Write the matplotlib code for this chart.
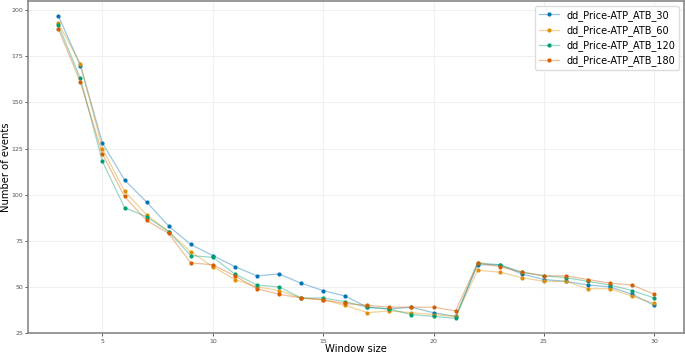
import matplotlib.pyplot as plt
from matplotlib.lines import Line2D

# Window sizes
windows = list(range(3, 31))

# Number of events per series
ev_30 = [197, 170, 128, 108, 96, 83, 73, 67, 61, 56, 57, 52, 48, 45,
         39, 38, 39, 36, 34, 62, 62, 57, 54, 53, 51, 50, 46, 40]
ev_60 = [193, 171, 125, 102, 89, 80, 69, 61, 54, 50, 48, 44, 43, 40,
         36, 37, 36, 35, 34, 59, 58, 55, 53, 53, 49, 49, 45, 41]
ev_120 = [192, 163, 118, 93, 88, 80, 67, 66, 57, 51, 50, 44, 44, 42,
          39, 38, 35, 34, 33, 63, 62, 58, 56, 55, 53, 51, 48, 44]
ev_180 = [190, 161, 122, 99, 86, 79, 63, 62, 56, 49, 46, 44, 43, 41,
          40, 39, 39, 39, 37, 63, 61, 58, 56, 56, 54, 52, 51, 46]

labels = ['dd_Price-ATP_ATB_30', 'dd_Price-ATP_ATB_60',
          'dd_Price-ATP_ATB_120', 'dd_Price-ATP_ATB_180']
colors = ['#0173b2', '#de8f05', '#029e73', '#d55e00']

fig = plt.figure(figsize=(6.85, 3.54), dpi=100)
ax = fig.add_axes([0.0416, 0.0593, 0.957, 0.938])

# faint lines, solid markers
for series, col in zip([ev_30, ev_60, ev_120, ev_180], colors):
    ax.plot(windows, series, color=col, alpha=0.4, linewidth=0.9)
    ax.plot(windows, series, linestyle='none', marker='o', markersize=2,
            color=col)

leg_handles = [(Line2D([], [], color=c, alpha=0.4, linewidth=0.9),
                Line2D([], [], color=c, linestyle='none', marker='o', markersize=2))
               for c in colors]
ax.legend(leg_handles, labels, loc='upper right', fontsize=7,
          framealpha=1, edgecolor='#dddddd', labelspacing=0.45)

ax.set_xlim(1.65, 31.35)
ax.set_ylim(25, 205)
ax.set_xticks([5, 10, 15, 20, 25, 30])
ax.set_yticks([25, 50, 75, 100, 125, 150, 175, 200])
ax.grid(True, color='#f0f0f0', linewidth=0.8)
ax.set_axisbelow(True)
ax.tick_params(labelsize=4.5, colors='#555555', length=2.5, width=0.7, pad=1.5)
for s in ax.spines.values():
    s.set_color('#888888')
    s.set_linewidth(1.2)

ax.set_xlabel('Window size', fontsize=7.2, labelpad=0)
ax.set_ylabel('Number of events', fontsize=7.2, labelpad=0)

plt.savefig('out.png', dpi=100)
